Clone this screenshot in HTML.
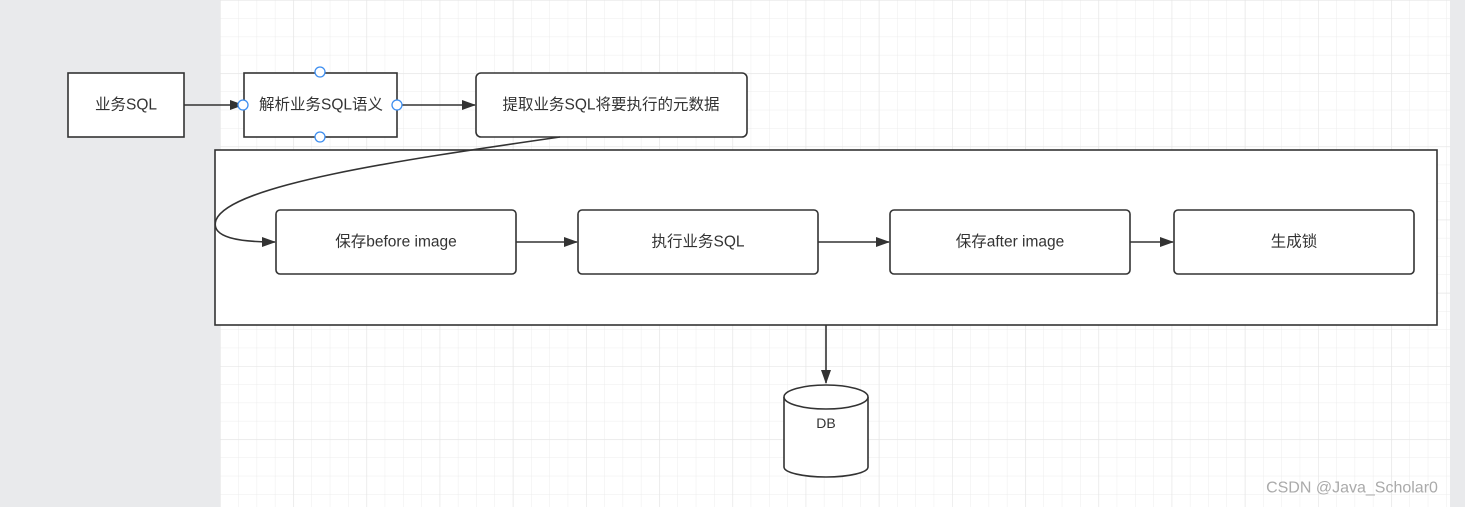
<!DOCTYPE html>
<html><head><meta charset="utf-8"><style>
html,body{margin:0;padding:0;width:1465px;height:507px;overflow:hidden;background:#e9eaec}
svg{display:block}
text{font-family:"Liberation Sans","Noto Sans CJK SC",sans-serif;font-size:15.5px;fill:#333;text-anchor:middle;dominant-baseline:central}
</style></head><body>
<svg width="1465" height="507" viewBox="0 0 1465 507">
<defs>
<pattern id="g" x="220" y="0" width="18.3" height="18.3" patternUnits="userSpaceOnUse">
<path d="M0 0H18.3M0 0V18.3" stroke="#ececec" stroke-width="1" fill="none"/>
</pattern>
<pattern id="G" x="220" y="0" width="73.2" height="73.2" patternUnits="userSpaceOnUse">
<path d="M0 0H73.2M0 0V73.2" stroke="#e6e6e6" stroke-width="1.3" fill="none"/>
</pattern>
<marker id="a" viewBox="0 0 14 12" refX="13" refY="6" markerWidth="14" markerHeight="12" markerUnits="userSpaceOnUse" orient="auto">
<path d="M0 1L14 6L0 11Z" fill="#333"/></marker>
</defs>
<rect x="220" y="0" width="1230" height="507" fill="#fff"/>
<rect x="220" y="0" width="1230" height="507" fill="url(#g)"/>
<rect x="220" y="0" width="1230" height="507" fill="url(#G)"/>
<g stroke="#333" stroke-width="1.6" fill="#fff">
<rect x="68" y="73" width="116" height="64"/>
<rect x="244" y="73" width="153" height="64"/>
<rect x="476" y="73" width="271" height="64" rx="5"/>
<rect x="215" y="150" width="1222" height="175"/>
<rect x="276" y="210" width="240" height="64" rx="4"/>
<rect x="578" y="210" width="240" height="64" rx="4"/>
<rect x="890" y="210" width="240" height="64" rx="4"/>
<rect x="1174" y="210" width="240" height="64" rx="4"/>
<path d="M784 397V467A42 10 0 0 0 868 467V397" />
<ellipse cx="826" cy="397" rx="42" ry="12"/>
</g>
<g stroke="#333" stroke-width="1.6" fill="none" marker-end="url(#a)">
<path d="M184 105H243"/>
<path d="M397 105H475"/>
<path d="M560 137C400 160 230 185 216 220C210 238 240 242 275 242"/>
<path d="M516 242H577"/>
<path d="M818 242H889"/>
<path d="M1130 242H1173"/>
<path d="M826 325V383"/>
</g>
<g fill="#fff" stroke="#3d8ef0" stroke-width="1.3">
<circle cx="320" cy="72" r="5"/><circle cx="320" cy="137" r="5"/>
<circle cx="243" cy="105" r="5"/><circle cx="397" cy="105" r="5"/>
</g>
<text x="126" y="105">业务SQL</text>
<text x="321" y="105">解析业务SQL语义</text>
<text x="611" y="105">提取业务SQL将要执行的元数据</text>
<text x="396" y="242">保存before image</text>
<text x="698" y="242">执行业务SQL</text>
<text x="1010" y="242">保存after image</text>
<text x="1294" y="242">生成锁</text>
<text x="826" y="423" style="font-size:14px">DB</text>
<text x="1352" y="488" style="font-size:16px;fill:#aaa">CSDN @Java_Scholar0</text>
</svg>
</body></html>
